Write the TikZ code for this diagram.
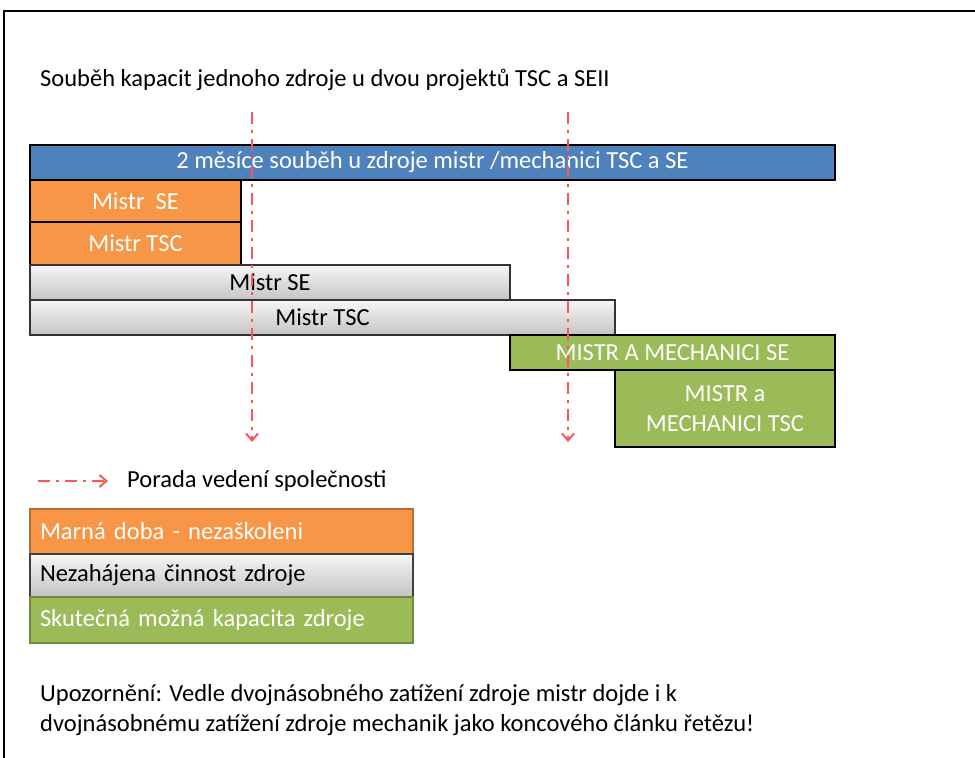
\documentclass[tikz,border=0pt]{standalone}
\usepackage{fontspec}
\setmainfont{Carlito}
\usetikzlibrary{arrows.meta}

\definecolor{barblue}{RGB}{79,129,189}
\definecolor{barorange}{RGB}{247,150,70}
\definecolor{bargreen}{RGB}{155,187,89}
\definecolor{edgeorange}{RGB}{182,109,49}
\definecolor{edgegreen}{RGB}{113,137,63}
\definecolor{greytop}{RGB}{246,246,246}
\definecolor{greybot}{RGB}{196,196,196}
\definecolor{meetred}{RGB}{248,88,92}

\tikzset{
  txt/.style={font=\fontsize{24.5}{29}\selectfont},
  bar/.style={txt, draw=black, line width=1.4pt, inner sep=0pt, outer sep=0pt,
    anchor=north west, align=center},
  bluebar/.style={bar, fill=barblue, text=white},
  orangebar/.style={bar, fill=barorange, text=white},
  greenbar/.style={bar, fill=bargreen, text=white},
  greybar/.style={bar, draw=black!80, top color=greytop, bottom color=greybot, text=black},
  legbox/.style={txt, anchor=north west, align=left, inner ysep=0pt, inner xsep=10pt,
    outer sep=0pt, text width=363pt, line width=1.4pt},
  meet/.style={draw=meetred, line width=2.2pt,
    dash pattern=on 12pt off 6pt on 3pt off 6pt,
    -{Straight Barb[length=7pt,width=12pt,line width=2pt]}},
}

\begin{document}
\begin{tikzpicture}[x=1pt,y=-1pt]
\useasboundingbox (0,0) rectangle (975,758);

% frame
\draw[line width=2pt] (4,758) -- (4,11) -- (975,11);

% heading
\node[txt, anchor=base west, inner sep=0pt] (title) at (40,86)
  {Souběh kapacit jednoho zdroje u dvou projektů TSC a SEII};

% schedule bars
\node[bluebar, minimum width=805pt, minimum height=35pt] (overlap) at (30,145)
  {2 měsíce souběh u zdroje mistr /mechanici TSC a SE};
\node[orangebar, minimum width=211pt, minimum height=42pt] (ose) at (30,180) {Mistr\ \ SE};
\node[orangebar, minimum width=211pt, minimum height=43pt] (otsc) at (30,222) {Mistr TSC};
\node[greybar, minimum width=480pt, minimum height=35pt] (gse) at (30,265) {Mistr SE};
\node[greybar, minimum width=585pt, minimum height=35pt] (gtsc) at (30,300) {Mistr TSC};
\node[greenbar, minimum width=325pt, minimum height=35pt] (mse) at (510,335) {MISTR A MECHANICI SE};
\node[greenbar, minimum width=220pt, minimum height=77pt,
  font=\fontsize{24.5}{30}\selectfont] (mtsc) at (615,370) {MISTR a\\MECHANICI TSC};

% meeting markers
\coordinate (m1s) at (252,112);
\coordinate (m1e) at (252,442);
\coordinate (m2s) at (568,112);
\coordinate (m2e) at (568,442);
\draw[meet] (m1s) -- (m1e);
\draw[meet] (m2s) -- (m2e);

% legend
\coordinate (la) at (38,481);
\coordinate (lb) at (108,481);
\draw[meet] (la) -- (lb);
\node[txt, anchor=west, inner sep=0pt] (legmeet) at (127,481) {Porada vedení společnosti};

\node[legbox, draw=edgeorange, fill=barorange, text=white, minimum height=45pt] (lorange) at (30,509)
  {Marná doba - nezaškoleni};
\node[legbox, draw=black!75, top color=greytop, bottom color=greybot, text=black, minimum height=43pt] (lgrey) at (30,554)
  {Nezahájena činnost zdroje};
\node[legbox, draw=edgegreen, fill=bargreen, text=white, minimum height=46pt] (lgreen) at (30,597)
  {Skutečná možná kapacita zdroje};

% note
\node[txt, anchor=base west, inner sep=0pt] (note1) at (40,701)
  {Upozornění: Vedle dvojnásobného zatížení zdroje mistr dojde i k};
\node[txt, anchor=base west, inner sep=0pt] (note2) at (40,731)
  {dvojnásobnému zatížení zdroje mechanik jako koncového článku řetězu!};
\end{tikzpicture}
\end{document}
